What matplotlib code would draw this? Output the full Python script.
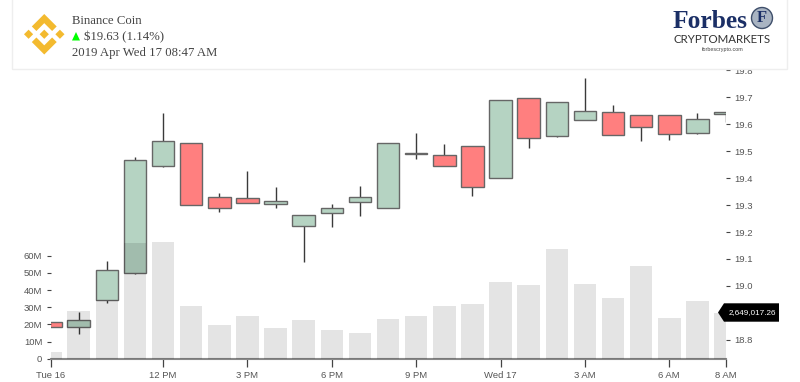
import matplotlib
matplotlib.use('Agg')
import matplotlib.pyplot as plt
from matplotlib.patches import Polygon, Rectangle, Circle

# hourly candles, Tue 16 8 AM to Wed 17 8 AM
hours = list(range(25))
opens = [18.865, 18.849, 18.949, 19.047, 19.446, 19.531, 19.329, 19.325, 19.305, 19.221, 19.270, 19.310, 19.288,
         19.492, 19.487, 19.519, 19.399, 19.698, 19.556, 19.615, 19.646, 19.633, 19.635, 19.566, 19.638]
closes = [18.847, 18.875, 19.059, 19.467, 19.539, 19.299, 19.288, 19.307, 19.314, 19.264, 19.290, 19.331, 19.529,
          19.490, 19.446, 19.368, 19.690, 19.550, 19.681, 19.648, 19.559, 19.591, 19.563, 19.618, 19.644]
highs = [18.865, 18.903, 19.094, 19.480, 19.640, 19.531, 19.344, 19.427, 19.366, 19.264, 19.303, 19.372, 19.529,
         19.566, 19.527, 19.519, 19.690, 19.698, 19.681, 19.770, 19.670, 19.633, 19.635, 19.643, 19.644]
lows = [18.847, 18.821, 18.936, 19.045, 19.442, 19.299, 19.273, 19.307, 19.290, 19.088, 19.218, 19.261, 19.288,
        19.470, 19.446, 19.334, 19.399, 19.511, 19.553, 19.615, 19.559, 19.539, 19.541, 19.562, 19.607]
volumes = [4.0, 27.6, 34.0, 67.4, 68.1, 30.9, 19.4, 24.7, 17.9, 22.4, 16.7, 15.0, 23.1,
           24.9, 30.5, 31.7, 44.5, 42.7, 63.7, 43.7, 35.4, 54.0, 23.7, 33.6, 26.4]

time_ticks = [0, 4, 7, 10, 13, 16, 19, 22, 24]
time_labels = ['Tue 16', '12 PM', '3 PM', '6 PM', '9 PM', 'Wed 17', '3 AM', '6 AM', '8 AM']
# 18.9 sits behind the value tag in the reference
price_ticks = [18.8, 19.0, 19.1, 19.2, 19.3, 19.4, 19.5, 19.6, 19.7, 19.8]
volume_ticks = [0, 10, 20, 30, 40, 50, 60]
volume_labels = ['0', '10M', '20M', '30M', '40M', '50M', '60M']

GREEN = '#b5d3c2'
RED = '#ff7f7f'
TEXT = '#555555'

plt.rcParams['font.family'] = ['Liberation Sans', 'DejaVu Sans']

W, H = 800, 382
fig = plt.figure(figsize=(W / 100, H / 100), dpi=100)
fig.patch.set_facecolor('white')

# axes box in pixels
rect = [50.5 / W, (H - 358.7) / H, 675 / W, 288.4 / H]
ax_vol = fig.add_axes(rect)
ax_price = ax_vol.twinx()
ax_vol.set_zorder(ax_price.get_zorder() + 1)
ax_vol.patch.set_visible(False)

ax_vol.set_xlim(0, 24)
ax_vol.set_ylim(0, 168)
ax_price.set_ylim(18.73, 19.8)

# candles
for h, o, c, hi, lo in zip(hours, opens, closes, highs, lows):
    col = GREEN if c >= o else RED
    ax_price.vlines(h, lo, hi, color='#3a3a3a', lw=1, zorder=2)
    ax_price.bar(h, abs(c - o), bottom=min(o, c), width=0.8, color=col,
                 edgecolor='#666666', linewidth=1, zorder=3)

# volume on top, see-through so the candles go darker behind it
ax_vol.bar(hours, volumes, width=0.8, color='black', alpha=0.105, linewidth=0, zorder=4)

for s in ['top', 'left', 'right']:
    ax_vol.spines[s].set_visible(False)
    ax_price.spines[s].set_visible(False)
ax_price.spines['bottom'].set_visible(False)
ax_vol.spines['bottom'].set_color('#888888')
ax_vol.spines['bottom'].set_linewidth(1.5)

ax_vol.set_xticks(time_ticks)
ax_vol.set_xticklabels(time_labels)
ax_vol.tick_params(axis='x', length=5.8, width=0.9, color='#444444', labelcolor=TEXT, labelsize=6.8, pad=3)
ax_vol.set_yticks(volume_ticks)
ax_vol.set_yticklabels(volume_labels)
ax_vol.tick_params(axis='y', length=3, width=0.8, color='#444444', labelcolor=TEXT, labelsize=6.8, pad=3)

ax_price.set_yticks(price_ticks)
ax_price.set_yticklabels(['%.1f' % p for p in price_ticks])
ax_price.tick_params(axis='y', length=2.6, width=0.8, color='#444444', labelcolor=TEXT, labelsize=6.8, pad=3.6)

# overlay in pixel coordinates for the header card, logos and the value tag
over = fig.add_axes([0, 0, 1, 1], zorder=10)
over.set_xlim(0, W)
over.set_ylim(H, 0)
over.axis('off')

over.add_patch(Rectangle((12, -4), 775, 72.5, facecolor='white', edgecolor='#eeeeee', lw=1))

# Binance mark
s = 40.5 / 126.61
ox, oy = 24, 14
shapes = [
    [(38.73, 53.2), (63.32, 28.62), (87.92, 53.22), (102.22, 38.91), (63.32, 0), (24.42, 38.9)],
    [(38.73, 73.41), (63.32, 98), (87.92, 73.4), (102.23, 87.69), (63.33, 126.6), (24.42, 87.72)],
    [(0, 63.31), (14.3, 49), (28.61, 63.31), (14.3, 77.61)],
    [(98, 63.31), (112.3, 49), (126.61, 63.3), (112.3, 77.62)],
    [(77.83, 63.3), (63.32, 48.78), (48.81, 63.28), (63.32, 77.78)],
]
for shape in shapes:
    over.add_patch(Polygon([(ox + x * s, oy + y * s) for x, y in shape], facecolor='#f3ba2f', edgecolor='none'))

serif = dict(family='Liberation Serif', fontsize=9.15, color='#444444', va='baseline', ha='left')
over.text(72, 24.3, 'Binance Coin', **serif)
over.add_patch(Polygon([(72, 40.5), (80, 40.5), (76, 32)], facecolor='#00ff00', edgecolor='none'))
over.text(83.5, 40, '$19.63 (1.14%)', **serif)
over.text(72, 55.7, '2019 Apr Wed 17 08:47 AM', **serif)

# Forbes logo
over.text(672.5, 28, 'Forbes', family='Liberation Serif', weight='bold', fontsize=18.4,
          color='#1b2f66', va='baseline', ha='left')
over.add_patch(Circle((762, 18), 10.5, facecolor='#a9b4c2', edgecolor='#3f4f6b', lw=1))
over.text(762, 18, 'F', family='Liberation Serif', weight='bold', fontsize=12, color='#1b2f66',
          va='center', ha='center')
over.text(722.5, 43, 'CRYPTOMARKETS', family='Lato', fontsize=8.3, color='#333333', va='baseline', ha='center')
over.text(723, 49.5, 'forbescrypto.com', fontsize=3.9, color='#444444', va='center', ha='center')

# last volume tag
over.add_patch(Polygon([(718, 312.5), (724, 303.3), (779, 303.3), (779, 321.7), (724, 321.7)],
                       facecolor='black', edgecolor='none'))
over.text(752, 313, '2,649,017.26', fontsize=5.85, color='white', va='center', ha='center')

fig.savefig('out.png', dpi=100)
